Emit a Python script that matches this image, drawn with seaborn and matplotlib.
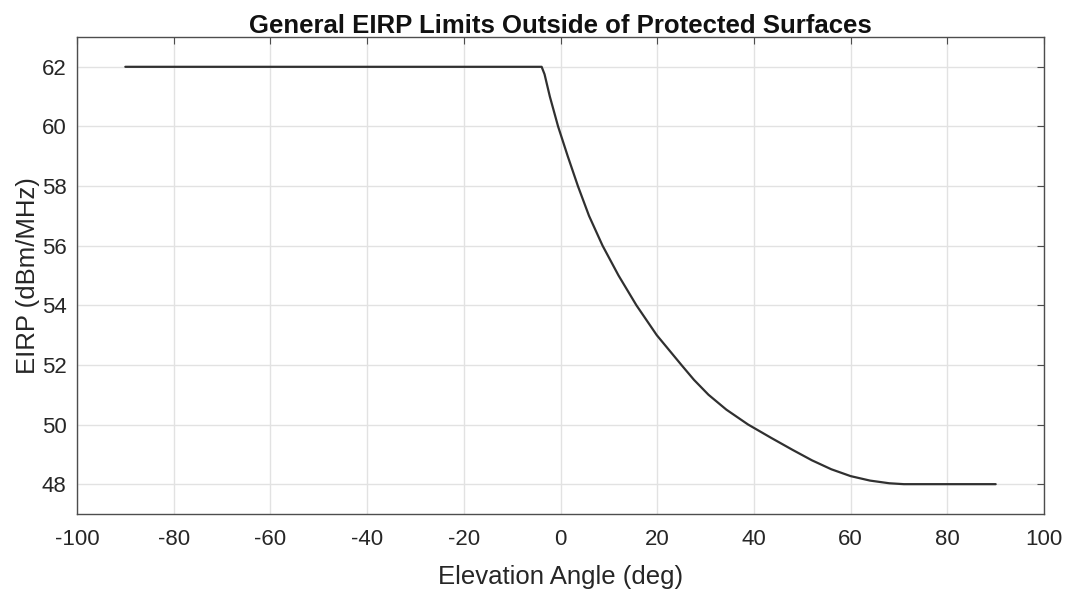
import numpy as np
import pandas as pd
import matplotlib
matplotlib.use("Agg")
import matplotlib.pyplot as plt
import seaborn as sns

# values
elevation = [-90, -3.9, -3.3, -2.2, -0.5, 1.5, 3.6, 5.9, 8.7, 12.0, 15.7,
             19.9, 25.0, 27.6, 30.6, 34.3, 38.8, 43.6, 48.0, 52.0, 56.0,
             60.0, 64.0, 68.0, 71.0, 90]
eirp = [62, 62, 61.75, 61.0, 60.0, 59.0, 58.0, 57.0, 56.0, 55.0, 54.0,
        53.0, 52.0, 51.5, 51.0, 50.5, 50.0, 49.55, 49.15, 48.8, 48.5,
        48.27, 48.12, 48.03, 48.0, 48]

x_ticks = list(range(-100, 101, 20))
y_ticks = list(range(48, 63, 2))

df = pd.DataFrame({"Elevation Angle (deg)": elevation, "EIRP (dBm/MHz)": eirp})

sns.set_style("white")
plt.rcParams["font.family"] = ["Liberation Sans", "DejaVu Sans"]
plt.rcParams["axes.unicode_minus"] = False

fig = plt.figure(figsize=(10.66, 5.92), dpi=100)
ax = fig.add_axes([0.0722, 0.1318, 0.9072, 0.8057])

sns.lineplot(data=df, x="Elevation Angle (deg)", y="EIRP (dBm/MHz)",
             color="#303030", linewidth=1.6, ax=ax, sort=False)

ax.set_xlim(-100, 100)
ax.set_ylim(47, 63)
ax.set_xticks(x_ticks)
ax.set_yticks(y_ticks)
ax.grid(True, color="#e2e2e2", linewidth=1.0)
ax.set_axisbelow(True)
ax.tick_params(direction="in", top=True, right=True, length=5, width=0.8,
               color="#4d4d4d", labelsize=16, labelcolor="#262626")
ax.tick_params(axis="x", pad=10.5)
ax.tick_params(axis="y", pad=7.5)
for s in ax.spines.values():
    s.set_color("#4d4d4d")
    s.set_linewidth(1.0)

ax.set_xlabel("Elevation Angle (deg)", fontsize=18.5, color="#262626")
ax.set_ylabel("EIRP (dBm/MHz)", fontsize=18.5, color="#262626")
ax.xaxis.set_label_coords(0.5, -0.106)
ax.yaxis.set_label_coords(-0.0386, 0.5)
ax.set_title("General EIRP Limits Outside of Protected Surfaces",
             fontsize=18.5, fontweight="bold", color="#111111", pad=3)

fig.savefig("out.png", dpi=100, facecolor="white")
